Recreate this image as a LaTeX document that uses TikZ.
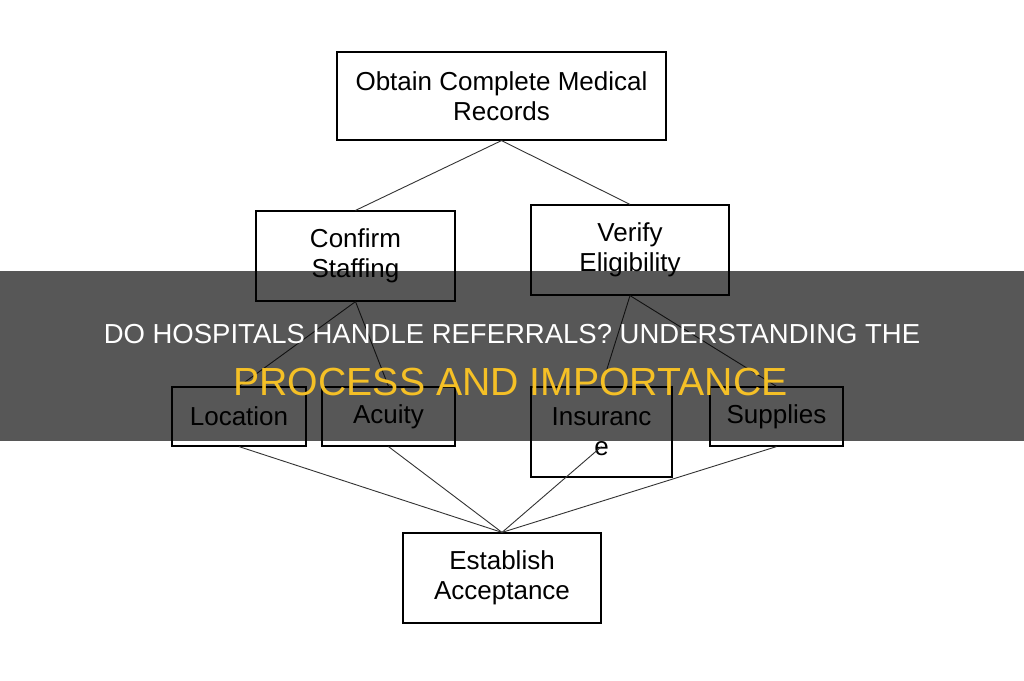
\documentclass[tikz,border=0pt]{standalone}
\usepackage{fontspec}
\setmainfont{Liberation Sans}
\definecolor{titlegold}{RGB}{245,192,38}

\begin{document}
\begin{tikzpicture}[x=1pt,y=-1pt,
    box/.style={draw=black, line width=1.2pt, inner sep=0pt, align=center,
                font=\fontsize{26}{30}\selectfont},
    link/.style={draw=black!80, line width=0.9pt}]
    \useasboundingbox[fill=white] (0,0) rectangle (1024,680);

    % Draw the boxes of the flow
    \node[box, minimum width=329pt, minimum height=88pt] (records) at (501.5,96) {Obtain Complete Medical\\Records};
    \node[box, minimum width=199pt, minimum height=90pt] (staff) at (355.5,256) {Confirm\\Staffing};
    \node[box, minimum width=198pt, minimum height=90pt] (elig) at (630,250) {Verify\\Eligibility};
    \node[box, minimum width=134pt, minimum height=59pt] (loc) at (239,416.5) {Location};
    \node[box, minimum width=133pt, minimum height=59pt] (acu) at (388.5,416.5) {Acuity};
    \node[box, minimum width=141pt, minimum height=90pt] (ins) at (601.5,432) {Insuranc\\e};
    \node[box, minimum width=133pt, minimum height=59pt] (sup) at (776.5,416.5) {Supplies};
    \node[box, minimum width=198pt, minimum height=90pt] (accept) at (502,578) {Establish\\Acceptance};
    \coordinate (insend) at (ins.north |- loc.south);

    % Draw the lines between the boxes
    \draw[link] (records.south) -- (staff.north);
    \draw[link] (records.south) -- (elig.north);
    \draw[link] (staff.south) -- (loc.north);
    \draw[link] (staff.south) -- (acu.north);
    \draw[link] (elig.south) -- (ins.north);
    \draw[link] (elig.south) -- (sup.north);
    \draw[link] (loc.south) -- (accept.north);
    \draw[link] (acu.south) -- (accept.north);
    \draw[link] (insend) -- (accept.north);
    \draw[link] (sup.south) -- (accept.north);

    % Draw the dark band and the title
    \fill[black, fill opacity=0.66] (0,271) rectangle (1024,441);
    \node[anchor=base, text=white, inner sep=0pt, font=\fontsize{27.5}{30}\selectfont] (title) at (512,343) {DO HOSPITALS HANDLE REFERRALS? UNDERSTANDING THE};
    \node[anchor=base, text=titlegold, inner sep=0pt, font=\fontsize{39.2}{42}\selectfont] (subtitle) at (510.5,395) {PROCESS AND IMPORTANCE};
\end{tikzpicture}
\end{document}
